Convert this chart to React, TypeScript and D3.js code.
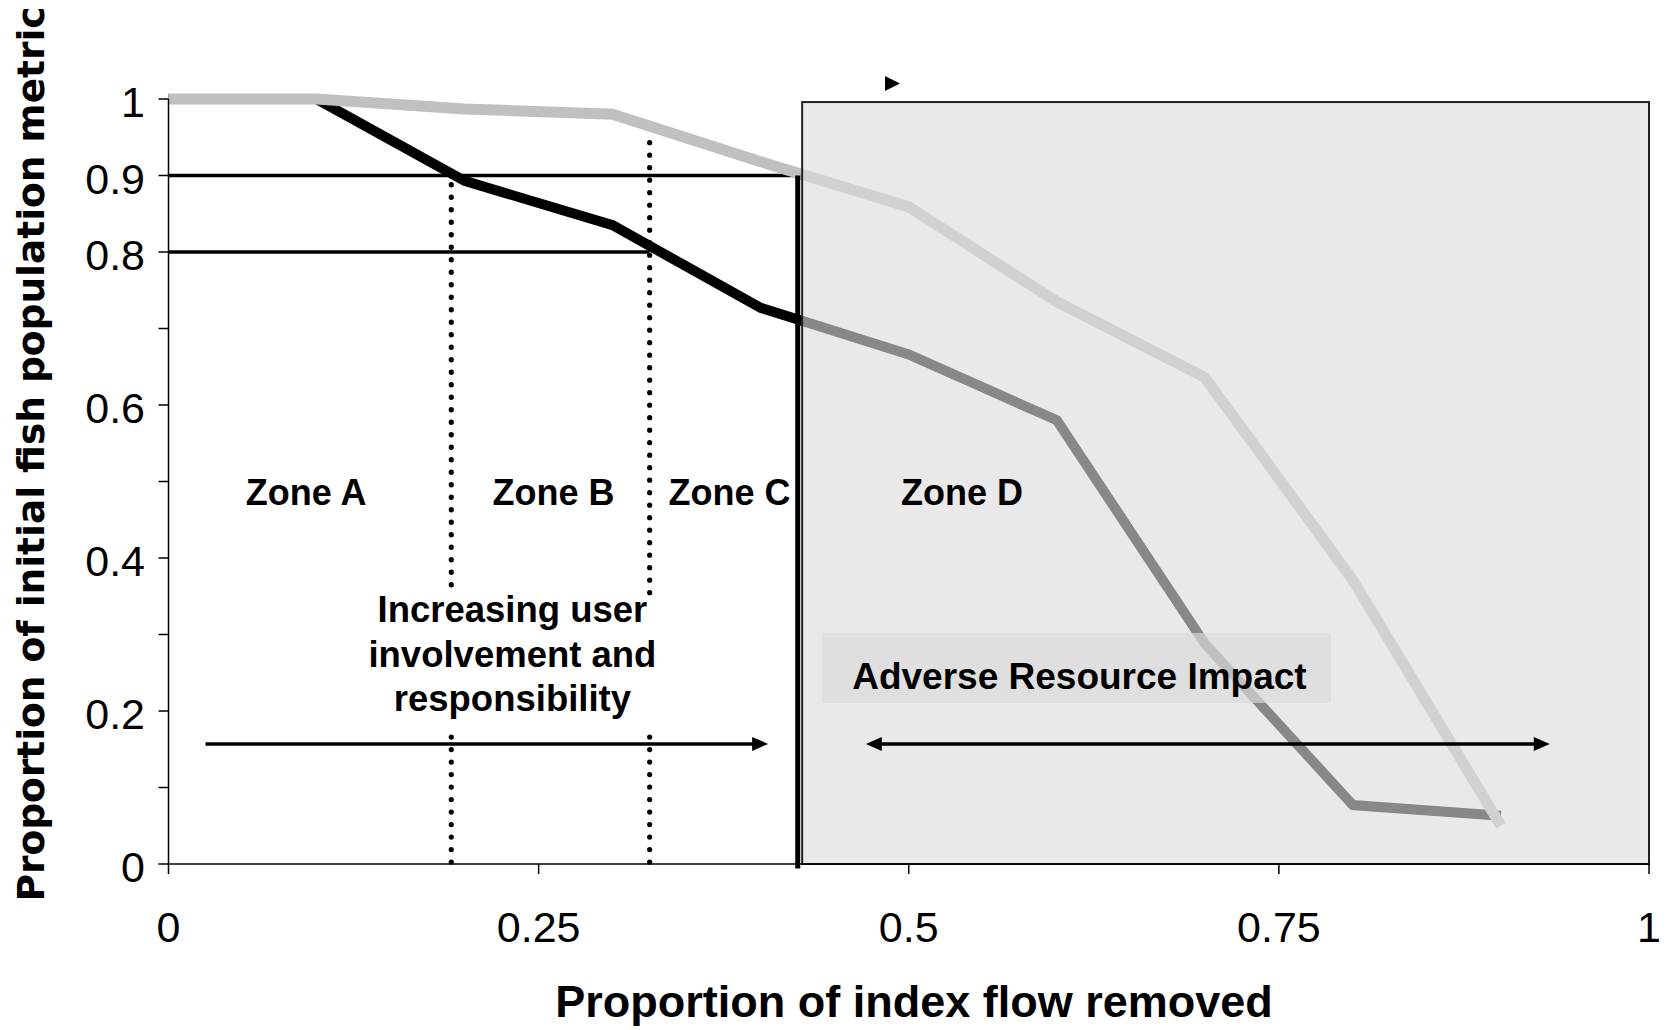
import React, { useEffect } from 'react';
import * as d3 from 'd3';

// ---- data ----
const flowRemoved = [0, 0.1, 0.2, 0.3, 0.4, 0.5, 0.6, 0.7, 0.8, 0.9];
const darkSeries = [1, 1, 0.893, 0.835, 0.727, 0.666, 0.58, 0.288, 0.077, 0.063];
const lightSeries = [1, 1, 0.987, 0.98, 0.918, 0.859, 0.735, 0.636, 0.371, 0.05];

const xTicks = [0, 0.25, 0.5, 0.75, 1];
const yTicks = [0, 0.1, 0.2, 0.3, 0.4, 0.5, 0.6, 0.7, 0.8, 0.9, 1];
const yTickLabels = [0, 0.2, 0.4, 0.6, 0.8, 0.9, 1];

// threshold reference lines (value, x where it ends)
const thresholdLines = [
  { value: 0.9, xEnd: 0.425 },
  { value: 0.8, xEnd: 0.325 },
];
// dotted zone boundaries: x, and vertical segments [top, bottom]
const zoneBoundaries = [
  { x: 0.191, segments: [[0.888, 0.352], [0.166, 0]] },
  { x: 0.325, segments: [[0.943, 0.352], [0.166, 0]] },
];
const criticalX = 0.425;
const impactBox = { x0: 0.428, x1: 1, top: 0.996 };

const zoneLabels = [
  { text: 'Zone A', x: 0.093 },
  { text: 'Zone B', x: 0.26 },
  { text: 'Zone C', x: 0.379 },
  { text: 'Zone D', x: 0.536 },
];
const zoneLabelY = 0.469;

const involvementLines = ['Increasing user', 'involvement and', 'responsibility'];
const involvementPos = { x: 0.2323, y: 0.3157 };
const involvementArrow = { x0: 0.025, x1: 0.405, y: 0.157 };
const impactArrow = { x0: 0.471, x1: 0.933, y: 0.157 };
const impactLabel = { text: 'Adverse Resource Impact', x: 0.6153, y: 0.2288 };
const impactLabelBg = { x0: 0.4414, x1: 0.7852, y0: 0.302, y1: 0.2105 };
const strayArrowhead = { x: 0.4887, y: 1.0203 };

const W = 1666;
const H = 1030;

export default function App() {
  useEffect(() => {
    document.body.style.margin = '0';
  }, []);

  const x = d3.scaleLinear().domain([0, 1]).range([168.5, 1649]);
  const y = d3.scaleLinear().domain([0, 1]).range([864, 99]);

  const line = d3
    .line<number>()
    .x((_, i) => x(flowRemoved[i]))
    .y((d) => y(d));

  const tickFont = "'Liberation Sans', Arial, sans-serif";

  const arrowHead = (tipX: number, tipY: number, dir: number, len = 16, half = 7) =>
    `${tipX},${tipY} ${tipX - dir * len},${tipY - half} ${tipX - dir * len},${tipY + half}`;

  return (
    <svg
      width={W}
      height={H}
      style={{ position: 'absolute', left: 0, top: 0, background: '#fff' }}
      xmlns="http://www.w3.org/2000/svg"
    >
      <rect x={0} y={0} width={W} height={H} fill="#fff" />

      {/* threshold lines */}
      {thresholdLines.map((t) => (
        <line
          key={t.value}
          x1={x(0)}
          x2={x(t.xEnd)}
          y1={y(t.value)}
          y2={y(t.value)}
          stroke="#000"
          strokeWidth={3.5}
        />
      ))}

      {/* dotted zone boundaries */}
      {zoneBoundaries.map((z) =>
        z.segments.map((s, i) => (
          <line
            key={`${z.x}-${i}`}
            x1={x(z.x)}
            x2={x(z.x)}
            y1={y(s[0])}
            y2={y(s[1])}
            stroke="#000"
            strokeWidth={5.2}
            strokeLinecap="round"
            strokeDasharray="0.1 12.4"
          />
        ))
      )}

      {/* series */}
      <path d={line(darkSeries) || ''} fill="none" stroke="#000" strokeWidth={10} strokeLinejoin="miter" />
      <path d={line(lightSeries) || ''} fill="none" stroke="#c0c0c0" strokeWidth={11} strokeLinejoin="miter" />

      {/* critical vertical line */}
      <line x1={x(criticalX)} x2={x(criticalX)} y1={y(0.9)} y2={y(-0.006)} stroke="#000" strokeWidth={5} />

      {/* impact box overlay */}
      <rect
        x={x(impactBox.x0)}
        y={y(impactBox.top)}
        width={x(impactBox.x1) - x(impactBox.x0)}
        height={y(0) - y(impactBox.top)}
        fill="#dcdcdc"
        fillOpacity={0.62}
        stroke="#222"
        strokeWidth={2}
      />

      {/* axes */}
      <line x1={x(0)} x2={x(1)} y1={y(0)} y2={y(0)} stroke="#000" strokeWidth={1.5} />
      <line x1={x(0)} x2={x(0)} y1={y(0)} y2={y(1)} stroke="#000" strokeWidth={1.5} />
      {xTicks.map((t) => (
        <g key={`xt${t}`}>
          <line x1={x(t)} x2={x(t)} y1={y(0)} y2={y(0) + 10} stroke="#000" strokeWidth={1.5} />
          <text x={x(t)} y={942} textAnchor="middle" fontFamily={tickFont} fontSize={43} fill="#000">
            {String(t)}
          </text>
        </g>
      ))}
      {yTicks.map((t) => (
        <line key={`yt${t}`} x1={x(0) - 10} x2={x(0)} y1={y(t)} y2={y(t)} stroke="#000" strokeWidth={1.5} />
      ))}
      {yTickLabels.map((t) => (
        <text key={`yl${t}`} x={145} y={y(t) + 18} textAnchor="end" fontFamily={tickFont} fontSize={43} fill="#000">
          {String(t)}
        </text>
      ))}

      {/* zone labels */}
      {zoneLabels.map((z) => (
        <text
          key={z.text}
          x={x(z.x)}
          y={y(zoneLabelY)}
          textAnchor="middle"
          fontFamily={tickFont}
          fontWeight="bold"
          fontSize={36}
          fill="#000"
        >
          {z.text}
        </text>
      ))}

      {/* involvement text */}
      <text
        x={x(involvementPos.x)}
        y={y(involvementPos.y)}
        textAnchor="middle"
        fontFamily={tickFont}
        fontWeight="bold"
        fontSize={36.5}
        fill="#000"
      >
        {involvementLines.map((l, i) => (
          <tspan key={l} x={x(involvementPos.x)} dy={i === 0 ? 0 : 44.5}>
            {l}
          </tspan>
        ))}
      </text>

      {/* involvement arrow */}
      <line
        x1={x(involvementArrow.x0)}
        x2={x(involvementArrow.x1) - 12}
        y1={y(involvementArrow.y)}
        y2={y(involvementArrow.y)}
        stroke="#000"
        strokeWidth={3.5}
      />
      <polygon points={arrowHead(x(involvementArrow.x1), y(involvementArrow.y), 1)} fill="#000" />

      {/* impact label */}
      <rect
        x={x(impactLabelBg.x0)}
        y={y(impactLabelBg.y0)}
        width={x(impactLabelBg.x1) - x(impactLabelBg.x0)}
        height={y(impactLabelBg.y1) - y(impactLabelBg.y0)}
        fill="#dadada"
        fillOpacity={0.68}
      />
      <text
        x={x(impactLabel.x)}
        y={y(impactLabel.y)}
        textAnchor="middle"
        fontFamily={tickFont}
        fontWeight="bold"
        fontSize={37}
        fill="#000"
      >
        {impactLabel.text}
      </text>

      {/* impact double arrow */}
      <line
        x1={x(impactArrow.x0) + 12}
        x2={x(impactArrow.x1) - 12}
        y1={y(impactArrow.y)}
        y2={y(impactArrow.y)}
        stroke="#000"
        strokeWidth={3.5}
      />
      <polygon points={arrowHead(x(impactArrow.x0), y(impactArrow.y), -1)} fill="#000" />
      <polygon points={arrowHead(x(impactArrow.x1), y(impactArrow.y), 1)} fill="#000" />

      {/* stray arrowhead at top */}
      <polygon points={arrowHead(x(strayArrowhead.x) + 8, y(strayArrowhead.y), 1, 15, 7.5)} fill="#000" />

      {/* axis titles */}
      <text
        x={914}
        y={1017}
        textAnchor="middle"
        fontFamily={tickFont}
        fontWeight="bold"
        fontSize={45}
        fill="#000"
      >
        Proportion of index flow removed
      </text>
      <text
        transform={`translate(43.5, 454) rotate(-90)`}
        textAnchor="middle"
        fontFamily="'DejaVu Sans', Verdana, sans-serif"
        fontWeight="bold"
        fontSize={37.5}
        fill="#000"
      >
        Proportion of initial fish population metric
      </text>
    </svg>
  );
}
